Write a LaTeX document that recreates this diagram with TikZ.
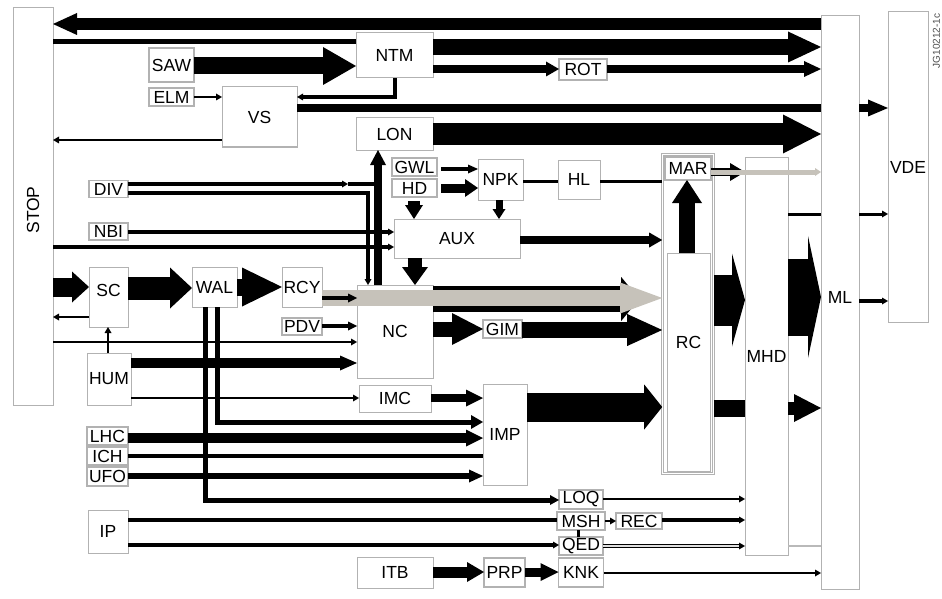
\documentclass[tikz,border=0pt]{standalone}
\usepackage{fontspec}
\setmainfont{Liberation Sans}
\usetikzlibrary{positioning, arrows.meta, fit, backgrounds}
\definecolor{band}{RGB}{198,194,186}

\begin{document}
\begin{tikzpicture}[
    x=1pt, y=-1pt,
    font=\fontsize{17.5}{20}\selectfont,
    node distance=3pt,
    box/.style={rectangle, draw=gray!60, line width=1pt, fill=white,
                inner sep=0pt, outer sep=0pt},
    tag/.style={box, line width=1.4pt},
    grp/.style={rectangle, draw=gray!60, line width=0.6pt, double=white,
                double distance=1.2pt},
    sz/.style 2 args={minimum width=#1pt, minimum height=#2pt},
    fat/.style n args={3}{line width=#1pt,
                -{Triangle[width=#2pt, length=#3pt, line width=0pt]}},
    feed/.style={line width=#1pt,
                -{Triangle[width=7pt, length=6pt, line width=0pt]}},
]
\useasboundingbox (0,0) rectangle (942,599);

% outer columns
\node[box, sz={40}{397}] (STOP) at (33,206.5) {};
\node[rotate=90] (stoptxt) at ([yshift=-3.5pt]STOP.center) {STOP};
\node[box, sz={38}{573}] (ML) at (840,302.5) {};
\node (mltxt) at ([yshift=5.5pt]ML.center) {ML};
\node[box, sz={40}{310}] (VDE) at (908,167) {VDE};
\node[box, sz={43}{398}] (MHD) at (766.5,356) {MHD};
\node[tag, sz={46}{23}] (MAR) at (688,168.5) {MAR};
\node[box, sz={43}{218}] (RC) at (688.5,362) {};
\node (rctxt) at ([yshift=20pt]RC.center) {RC};

% upper blocks
\node[box, sz={77}{45}]                  (NTM) at (394.5,55.5) {NTM};
\node[tag, sz={48}{21}]                  (ROT) at (583,69.5)   {ROT};
\node[tag, sz={45}{34}]                  (SAW) at (171.5,65)   {SAW};
\node[tag, sz={45}{18}, below=6pt of SAW] (ELM)                {ELM};
\node[box, sz={75}{60}]                  (VS)  at (259.5,117)  {VS};
\node[box, sz={77}{32}]                  (LON) at (394.5,134)  {LON};
\node[tag, sz={45}{18}]                  (GWL) at (414.5,167)  {GWL};
\node[tag, sz={45}{18}, below=of GWL]    (HD)                  {HD};
\node[box, sz={45}{41}]                  (NPK) at (500.5,179.5) {NPK};
\node[box, sz={42}{39}, right=35pt of NPK] (HL)                {HL};
\node[tag, sz={39}{17}]                  (DIV) at (108.5,189)  {DIV};
\node[tag, sz={39}{17}]                  (NBI) at (108.5,231.5) {NBI};
\node[box, sz={126}{39}]                 (AUX) at (457,238.5)  {AUX};

% middle blocks
\node[box, sz={39}{60}]                  (SC)  at (108.5,297)  {};
\node (sctxt) at ([yshift=7pt]SC.center) {SC};
\node[box, sz={45}{40}]                  (WAL) at (214.5,287)  {WAL};
\node[box, sz={40}{40}]                  (RCY) at (302,287)    {RCY};
\node[tag, sz={40}{17}, below=11pt of RCY] (PDV)               {PDV};
\node[box, sz={44}{52}]                  (HUM) at (109,379)    {HUM};
\node[box, sz={76}{93}]                  (NC)  at (395,331.5)  {NC};
\node[tag, sz={39}{18}]                  (GIM) at (502.5,329)  {GIM};
\node[box, sz={72}{27}, below=7pt of NC] (IMC)                 {IMC};
\node[box, sz={44}{101}]                 (IMP) at (505,434.5)  {IMP};

% lower blocks
\node[tag, sz={41}{18}]                  (LHC) at (107.5,436)  {LHC};
\node[tag, sz={41}{18}, below=2pt of LHC] (ICH)                {ICH};
\node[tag, sz={41}{19}, below=2pt of ICH] (UFO)                {UFO};
\node[box, sz={40}{43}]                  (IP)  at (108,531.5)  {IP};
\node[tag, sz={44}{19}]                  (LOQ) at (581,499.5)  {LOQ};
\node[tag, sz={48}{18}, below=of LOQ]    (MSH)                 {MSH};
\node[tag, sz={46}{16}, right=11pt of MSH] (REC)               {REC};
\node[tag, sz={44}{18}, below=7pt of MSH] (QED)                {QED};
\node[tag, sz={45}{29}, below=of QED]    (KNK)                 {KNK};
\node[box, sz={76}{31}]                  (ITB) at (395,572.5)  {ITB};
\node[tag, sz={41}{29}]                  (PRP) at (504.5,572.5) {PRP};

\node[rotate=90, font=\fontsize{10}{12}\selectfont, text=black!70] (jgref)
    at (936.5,41) {JG10212-1c};

\begin{scope}[on background layer]
  \node[grp, fit=(GWL)(HD), inner sep=4pt] (gwlhd) {};
  \node[grp, fit=(MAR)(RC), inner sep=2.5pt, fill=white] (rcgrp) {};
\end{scope}

% top lanes
\draw[fat={12}{22}{24}] (ML.west |- 0,24) -- (STOP.east |- 0,24);
\draw[line width=5pt] (STOP.east |- 0,42) -- (NTM.west |- 0,42);
\draw[fat={16}{31}{33}] (NTM.east |- 0,47) -- (ML.west |- 0,47);
\draw[fat={17}{38}{33}] (SAW.east |- 0,66) -- (NTM.west |- 0,66);
\draw[fat={8}{15}{13}] (NTM.east |- 0,69) -- (ROT.west |- 0,69);
\draw[fat={8}{16}{17}] (ROT.east |- 0,69) -- (ML.west |- 0,69);
\draw[feed=4] (NTM.south) |- (VS.east |- 0,97);
\draw[line width=8pt] (VS.east |- 0,108) -- (ML.west |- 0,108);
\draw[fat={8}{17}{20}] (ML.east |- 0,108) -- (VDE.west |- 0,108);
\draw[fat={22}{39}{38}] (LON.east |- 0,134) -- (ML.west |- 0,134);
\draw[fat={8}{16}{15}] (NC.north -| 378,0) -- (LON.south -| 378,0);

% thin feeds
\foreach \a/\b/\y/\w in {ELM/VS/97/2, NBI/AUX/232/4, STOP/AUX/247/4,
                         STOP/NC/342/2, HUM/IMC/398/2.5, IP/QED/545/4,
                         LOQ/MHD/499/2.5, MSH/REC/521/2, REC/MHD/520/4,
                         KNK/ML/573/2, ML/VDE/214/3, ML/VDE/301/4}
    \draw[feed=\w] (\a.east |- 0,\y) -- (\b.west |- 0,\y);
\foreach \a/\b/\y in {VS/STOP/140, SC/STOP/317}
    \draw[feed=2] (\a.west |- 0,\y) -- (\b.east |- 0,\y);
\draw[feed=2] (HUM.north -| 108,0) -- (SC.south -| 108,0);

% DIV and the GWL/HD group
\coordinate (divtap) at (348,184);
\coordinate (divend) at (374,184);
\draw[feed=4] (DIV.east |- 0,184) -- (divtap);
\draw[line width=4pt] (divtap) -- (divend);
\draw[feed=4] (DIV.east |- 0,193) -| (NC.north -| 368,0);
\draw[fat={4}{9}{10}] (gwlhd.east |- 0,169) -- (NPK.west |- 0,169);
\draw[fat={9}{18}{13}] (gwlhd.east |- 0,188) -- (NPK.west |- 0,188);
\draw[fat={7}{13}{10}] (NPK.south -| 499,0) -- (AUX.north -| 499,0);
\draw[fat={12}{18}{14}] (gwlhd.south -| 414,0) -- (AUX.north -| 414,0);
\draw[line width=3pt] (NPK.east |- 0,181) -- (HL.west |- 0,181)
                      (HL.east |- 0,181) -- (rcgrp.west |- 0,181);
\draw[fat={14}{26}{18}] (AUX.south -| 415,0) -- (NC.north -| 415,0);
\draw[fat={8}{15}{13}] (AUX.east |- 0,240) -- (rcgrp.west |- 0,240);

% RC group
\draw[fat={16}{30}{23}] (RC.north -| 687,0) -- (MAR.south -| 687,0);
\draw[fat={8}{18}{15}] (MAR.east |- 0,172) -- (MHD.west |- 0,172);
\draw[band, line width=5pt, -{Triangle[width=8pt, length=6pt, line width=0pt]}]
    (MAR.east |- 0,172) -- (ML.west |- 0,172);

% left chain
\draw[fat={19}{31}{17}] (STOP.east |- 0,287) -- (SC.west |- 0,287);
\draw[fat={23}{41}{22}] (SC.east |- 0,288) -- (WAL.west |- 0,288);
\draw[fat={17}{39}{40}] (WAL.east |- 0,287) -- (RCY.west |- 0,287);

% NC outputs
\draw[fat={26}{44}{18}, shorten >=23pt] (NC.east |- 0,299) -- (rcgrp.west |- 0,299);
\draw[band, fat={16}{31}{42}] (RCY.east |- 0,298) -- (rcgrp.west |- 0,298);
\draw[fat={4}{9}{9}] (RCY.east |- 0,298) -- (NC.west |- 0,298);
\draw[fat={4}{9}{9}] (PDV.east |- 0,326) -- (NC.west |- 0,326);
\draw[fat={10}{15}{17}] (HUM.east |- 0,363) -- (NC.west |- 0,363);
\draw[fat={15}{32}{31}] (NC.east |- 0,329) -- (GIM.west |- 0,329);
\draw[fat={16}{32}{35}] (GIM.east |- 0,330) -- (rcgrp.west |- 0,330);
\draw[fat={8}{17}{17}] (IMC.east |- 0,398) -- (IMP.west |- 0,398);
\draw[fat={29}{45}{18}] (IMP.east |- 0,407) -- (rcgrp.west |- 0,407);

% towards ML
\draw[fat={51}{93}{13}] (rcgrp.east |- 0,300) -- (MHD.west |- 0,300);
\draw[fat={77}{122}{13}] (MHD.east |- 0,297) -- (ML.west |- 0,297);
\draw[line width=17pt] (rcgrp.east |- 0,408) -- (MHD.west |- 0,408);
\draw[fat={13}{28}{27}] (MHD.east |- 0,408) -- (ML.west |- 0,408);
\draw[line width=3pt] (MHD.east |- 0,214) -- (ML.west |- 0,214);

% WAL taps and IMP inputs
\draw[fat={5}{14}{12}] (WAL.south -| 217.5,0) |- (IMP.west |- 0,422);
\draw[fat={5}{10}{9}] (WAL.south -| 205.5,0) |- (LOQ.west |- 0,500);
\draw[fat={10}{17}{17}] (LHC.east |- 0,438) -- (IMP.west |- 0,438);
\draw[line width=4pt] (ICH.east |- 0,456) -- (IMP.west |- 0,456);
\draw[fat={6}{13}{14}] (UFO.east |- 0,476) -- (IMP.west |- 0,476);

% bottom rows
\draw[line width=4pt] (IP.east |- 0,520) -- (MSH.west |- 0,520);
\draw[line width=3pt] (MSH.south -| 578,0) -- (QED.north -| 578,0);
\draw[line width=0.8pt, double=gray!25, double distance=1.6pt,
      -{Triangle[width=7pt, length=6pt, line width=0pt]}]
    (QED.east |- 0,546) -- (MHD.west |- 0,546);
\draw[gray!55, line width=1.5pt] (MHD.east |- 0,546) -- (ML.west |- 0,546);
\draw[fat={11}{20}{17}] (ITB.east |- 0,572) -- (PRP.west |- 0,572);
\draw[fat={9}{18}{18}] (PRP.east |- 0,572) -- (KNK.west |- 0,572);
\end{tikzpicture}
\end{document}
